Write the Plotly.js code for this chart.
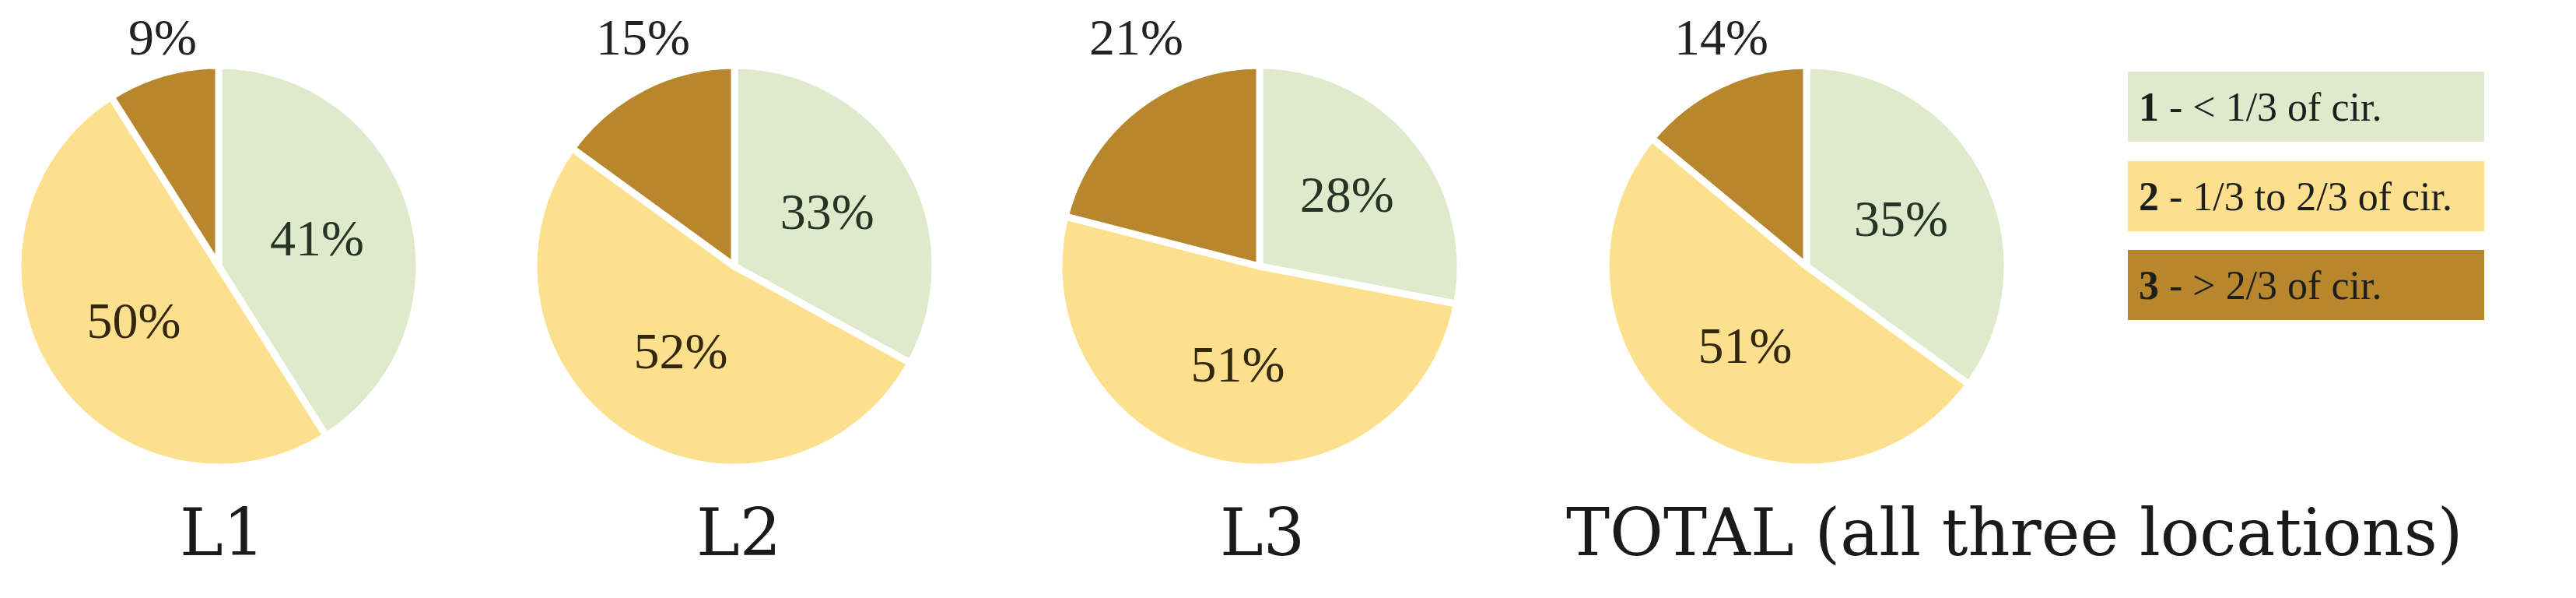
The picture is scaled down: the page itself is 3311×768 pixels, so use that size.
<!DOCTYPE html>
<html>
<head>
<meta charset="utf-8">
<script src="https://cdn.plot.ly/plotly-3.0.1.min.js"></script>
<style>
  html, body { margin: 0; padding: 0; background: #ffffff; }
  #chart { width: 3311px; height: 768px; }
</style>
</head>
<body>
<div id="chart"></div>
<script>
// ---- data ----
const categories = ['1 - < 1/3 of cir.', '2 - 1/3 to 2/3 of cir.', '3 - > 2/3 of cir.'];
const categoryNumbers = ['1', '2', '3'];
const categoryTexts = [' - < 1/3 of cir.', ' - 1/3 to 2/3 of cir.', ' - > 2/3 of cir.'];
const locations = ['L1', 'L2', 'L3', 'TOTAL (all three locations)'];
const valuesL1 = [41, 50, 9];
const valuesL2 = [33, 52, 15];
const valuesL3 = [28, 51, 21];
const valuesTotal = [35, 51, 14];
const seriesValues = [valuesL1, valuesL2, valuesL3, valuesTotal];
const sliceColors = ['#dfeacd', '#fde08e', '#b8862c'];
const labelColors = ['#263426', '#33270e', '#222222'];

// ---- layout geometry (pixels) ----
const W = 3311, H = 768;
const LABEL_FONT = 'Liberation Serif, Times New Roman, serif';
const TITLE_FONT = 'DejaVu Serif, Liberation Serif, serif';
const pieCx = [281, 944, 1619, 2322];
const pieCy = 342;
const pieD = 516;
const titleX = [285, 950, 1622, 2011];
const titleAnchor = ['center', 'center', 'center', 'left'];
const titleY = 684;

const px = x => x / W;
const py = y => 1 - y / H;

const traces = seriesValues.map((vals, i) => ({
  type: 'pie',
  labels: categories,
  values: vals,
  sort: false,
  direction: 'clockwise',
  rotation: 0,
  marker: { colors: sliceColors, line: { color: '#ffffff', width: 9 } },
  texttemplate: '%{percent:.0%}',
  textposition: ['inside', 'inside', 'none'],
  insidetextorientation: 'horizontal',
  textfont: { family: LABEL_FONT, size: 66, color: labelColors },
  showlegend: false,
  hoverinfo: 'label+percent',
  domain: {
    x: [px(pieCx[i] - pieD / 2), px(pieCx[i] + pieD / 2)],
    y: [py(pieCy + pieD / 2), py(pieCy - pieD / 2)]
  }
}));

const annotations = [];

// labels of the small (third) slice, placed just above the pie over the slice's arc midpoint
seriesValues.forEach((vals, i) => {
  const total = vals.reduce((a, b) => a + b, 0);
  const startFrac = (vals[0] + vals[1]) / total;
  const midDeg = (startFrac + vals[2] / total / 2) * 360;
  const r = pieD / 2;
  const lx = pieCx[i] + r * Math.sin(midDeg * Math.PI / 180);
  annotations.push({
    xref: 'paper', yref: 'paper',
    x: px(lx), y: py(pieCy - r + 2),
    xanchor: 'center', yanchor: 'bottom',
    text: Math.round(vals[2] / total * 100) + '%',
    showarrow: false,
    font: { family: LABEL_FONT, size: 66, color: '#222222' }
  });
});

// location titles
locations.forEach((name, i) => {
  annotations.push({
    xref: 'paper', yref: 'paper',
    x: px(titleX[i]), y: py(titleY),
    xanchor: titleAnchor[i], yanchor: 'middle',
    text: name, showarrow: false,
    font: { family: TITLE_FONT, size: 84, color: '#1a1a1a' }
  });
});

// legend boxes
const legX = 2735, legW = 458, legH = 90, legPadX = 14, legPadY = 20;
const legTop = [92, 207, 321];
categories.forEach((c, i) => {
  annotations.push({
    xref: 'paper', yref: 'paper',
    x: px(legX), y: py(legTop[i]),
    xanchor: 'left', yanchor: 'top',
    text: '<b>' + categoryNumbers[i] + '</b>' + categoryTexts[i],
    showarrow: false,
    align: 'left',
    width: legW - 2 * legPadX, height: legH - 2 * legPadX,
    valign: 'middle',
    borderpad: legPadX,
    borderwidth: 0,
    bgcolor: sliceColors[i],
    font: { family: LABEL_FONT, size: 52, color: '#1e1e1e' }
  });
});

const layout = {
  width: W, height: H,
  margin: { l: 0, r: 0, t: 0, b: 0 },
  paper_bgcolor: '#ffffff',
  plot_bgcolor: '#ffffff',
  annotations: annotations,
  showlegend: false
};

Plotly.newPlot('chart', traces, layout, { displayModeBar: false, staticPlot: true });
</script>
</body>
</html>
